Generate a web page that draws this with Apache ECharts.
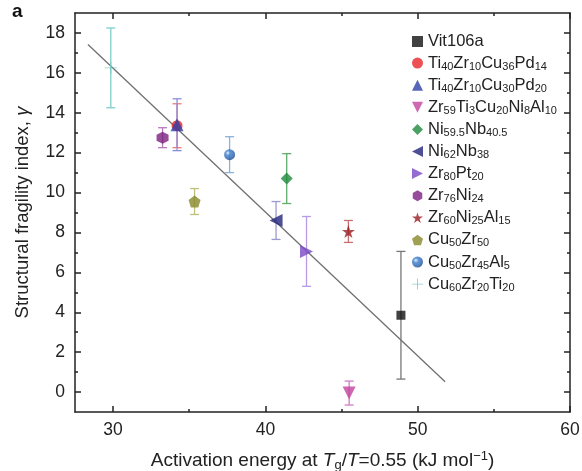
<!DOCTYPE html>
<html>
<head>
<meta charset="utf-8">
<script src="https://cdn.jsdelivr.net/npm/echarts@6/dist/echarts.min.js"></script>
<style>
  html, body { margin: 0; padding: 0; background: #fff; }
  #chart { width: 582px; height: 471px; }
</style>
</head>
<body>
<div id="chart"></div>
<script>
// alloy names (legend order)
const names = [
  'Vit106a', 'Ti40Zr10Cu36Pd14', 'Ti40Zr10Cu30Pd20', 'Zr59Ti3Cu20Ni8Al10',
  'Ni59.5Nb40.5', 'Ni62Nb38', 'Zr80Pt20', 'Zr76Ni24',
  'Zr60Ni25Al15', 'Cu50Zr50', 'Cu50Zr45Al5', 'Cu60Zr20Ti20'
];
// rich-text legend labels (subscripts)
const richNames = [
  '{n|Vit106a}',
  '{n|Ti}{s|40}{n|Zr}{s|10}{n|Cu}{s|36}{n|Pd}{s|14}',
  '{n|Ti}{s|40}{n|Zr}{s|10}{n|Cu}{s|30}{n|Pd}{s|20}',
  '{n|Zr}{s|59}{n|Ti}{s|3}{n|Cu}{s|20}{n|Ni}{s|8}{n|Al}{s|10}',
  '{n|Ni}{s|59.5}{n|Nb}{s|40.5}',
  '{n|Ni}{s|62}{n|Nb}{s|38}',
  '{n|Zr}{s|80}{n|Pt}{s|20}',
  '{n|Zr}{s|76}{n|Ni}{s|24}',
  '{n|Zr}{s|60}{n|Ni}{s|25}{n|Al}{s|15}',
  '{n|Cu}{s|50}{n|Zr}{s|50}',
  '{n|Cu}{s|50}{n|Zr}{s|45}{n|Al}{s|5}',
  '{n|Cu}{s|60}{n|Zr}{s|20}{n|Ti}{s|20}'
];
// activation energy (kJ/mol)
const xVals = [48.9, 34.2, 34.2, 45.5, 41.4, 40.7, 42.7, 33.25, 45.45, 35.35, 37.65, 29.85];
// structural fragility index
const yVals = [3.85, 13.35, 13.4, -0.05, 10.7, 8.6, 7.05, 12.75, 8.05, 9.55, 11.9, 16.25];
// error bar half-length
const yErr = [3.2, 1.1, 1.3, 0.6, 1.25, 0.95, 1.75, 0.5, 0.55, 0.65, 0.9, 2.0];
// linear fit end points
const fitX = [28.35, 51.8];
const fitY = [17.42, 0.52];
// tick values
const xMajor = [30, 40, 50, 60];
const xMinor = [35, 45, 55];
const yMajor = [0, 2, 4, 6, 8, 10, 12, 14, 16, 18];
const yMinor = [1, 3, 5, 7, 9, 11, 13, 15, 17];

const markerColors = ['#111111', '#e8262b', '#2f3ea6', '#c2449e', '#1e8a3c', '#22237a',
  '#7a48c4', '#7a1f80', '#9b1b22', '#88882a', '#2a6cb6', '#6cc4be'];
const barColors = ['#777777', '#f07a7a', '#8a8ee0', '#d57cc4', '#5fae6b', '#9a9ad0',
  '#b79ae6', '#b47ab8', '#c87070', '#c0c07a', '#8ab2da', '#7fcfc8'];

const symHex = 'path://M0,-1 L0.866,-0.5 L0.866,0.5 L0,1 L-0.866,0.5 L-0.866,-0.5Z';
const symPent = 'path://M0,-1 L0.951,-0.309 L0.588,0.809 L-0.588,0.809 L-0.951,-0.309Z';
const symStar = 'path://M0,-1 L0.225,-0.309 L0.951,-0.309 L0.363,0.118 L0.588,0.809 L0,0.382 L-0.588,0.809 L-0.363,0.118 L-0.951,-0.309 L-0.225,-0.309Z';
const symPlus = 'path://M-0.08,-1 H0.08 V-0.08 H1 V0.08 H0.08 V1 H-0.08 V0.08 H-1 V-0.08 H-0.08Z';
const symDown = 'path://M-1,-1 L1,-1 L0,1Z';
const symLeft = 'path://M1,-1 L1,1 L-1,0Z';
const symRight = 'path://M-1,-1 L-1,1 L1,0Z';

const symbols = ['rect', 'circle', 'triangle', symDown, 'diamond', symLeft,
  symRight, symHex, symStar, symPent, 'circle', symPlus];
const sizes = [9, 11, 13, 13, 12, 13, 13, 12, 13, 12, 11, 12];

const sphere = new echarts.graphic.RadialGradient(0.35, 0.35, 0.7, [
  { offset: 0, color: '#e6f0ff' },
  { offset: 0.3, color: '#3d80d0' },
  { offset: 1, color: '#1c4d96' }
]);

const font = "'Liberation Sans', Arial, sans-serif";
const chart = echarts.init(document.getElementById('chart'));

const axisLineStyle = { color: '#222', width: 1.5 };

function xAxes(pos) {
  return [
    {
      type: 'value', position: pos, min: 27.5, max: 60,
      axisLine: { show: true, onZero: false, lineStyle: axisLineStyle },
      axisTick: { show: true, inside: true, length: 6, customValues: xMajor, lineStyle: { color: '#222', width: 1.5 } },
      axisLabel: { show: pos === 'bottom', customValues: xMajor, margin: 9, fontSize: 17.5, color: '#222', fontFamily: font },
      splitLine: { show: false },
      name: pos === 'bottom' ? '{n|Activation energy at }{i|T}{s|g}{n|/}{i|T}{n|=0.55 (kJ mol}{p|\u22121}{n|)}' : '',
      nameLocation: 'middle', nameGap: 38,
      nameTextStyle: {
        rich: {
          n: { fontSize: 19, fontFamily: font, color: '#222', lineHeight: 22 },
          i: { fontSize: 19, fontFamily: font, color: '#222', fontStyle: 'italic', lineHeight: 22 },
          s: { fontSize: 13, fontFamily: font, color: '#222', lineHeight: 12, verticalAlign: 'bottom' },
          p: { fontSize: 13, fontFamily: font, color: '#222', lineHeight: 12, verticalAlign: 'top' }
        }
      }
    },
    {
      type: 'value', position: pos, min: 27.5, max: 60,
      axisLine: { show: false, onZero: false },
      axisTick: { show: true, inside: true, length: 3, customValues: xMinor, lineStyle: { color: '#222', width: 1.5 } },
      axisLabel: { show: false },
      splitLine: { show: false }
    }
  ];
}

function yAxes(pos) {
  return [
    {
      type: 'value', position: pos, min: -1, max: 19,
      axisLine: { show: true, onZero: false, lineStyle: axisLineStyle },
      axisTick: { show: true, inside: true, length: 6, customValues: yMajor, lineStyle: { color: '#222', width: 1.5 } },
      axisLabel: { show: pos === 'left', customValues: yMajor, margin: 10, fontSize: 17.5, color: '#222', fontFamily: font },
      splitLine: { show: false },
      name: pos === 'left' ? '{n|Structural fragility index, }{i|\u03b3}' : '',
      nameLocation: 'middle', nameGap: 43, nameRotate: 90,
      nameTextStyle: {
        rich: {
          n: { fontSize: 18.5, fontFamily: font, color: '#222' },
          i: { fontSize: 18.5, fontFamily: font, color: '#222', fontStyle: 'italic' }
        }
      }
    },
    {
      type: 'value', position: pos, min: -1, max: 19,
      axisLine: { show: false, onZero: false },
      axisTick: { show: true, inside: true, length: 3, customValues: yMinor, lineStyle: { color: '#222', width: 1.5 } },
      axisLabel: { show: false },
      splitLine: { show: false }
    }
  ];
}

// error bars: [x, low, high, index]
const errData = xVals.map((x, i) => [x, yVals[i] - yErr[i], yVals[i] + yErr[i], i]);

const series = [];
series.push({
  type: 'line',
  name: 'fit',
  data: fitX.map((x, i) => [x, fitY[i]]),
  showSymbol: false,
  lineStyle: { color: '#707070', width: 1.3 },
  z: 1,
  silent: true
});
series.push({
  type: 'custom',
  name: 'errors',
  data: errData,
  z: 2,
  renderItem: function (params, api) {
    const i = api.value(3);
    const lo = api.coord([api.value(0), api.value(1)]);
    const hi = api.coord([api.value(0), api.value(2)]);
    const w = 4.5;
    const style = { stroke: barColors[i], lineWidth: 1.3 };
    return {
      type: 'group',
      children: [
        { type: 'line', shape: { x1: lo[0], y1: lo[1], x2: hi[0], y2: hi[1] }, style: style },
        { type: 'line', shape: { x1: lo[0] - w, y1: lo[1], x2: lo[0] + w, y2: lo[1] }, style: style },
        { type: 'line', shape: { x1: hi[0] - w, y1: hi[1], x2: hi[0] + w, y2: hi[1] }, style: style }
      ]
    };
  }
});
names.forEach((nm, i) => {
  series.push({
    type: 'scatter',
    name: nm,
    data: [[xVals[i], yVals[i]]],
    symbol: symbols[i],
    symbolSize: sizes[i],
    itemStyle: { color: i === 10 ? sphere : markerColors[i] },
    z: 3
  });
});

const richIdx = {};
names.forEach((nm, i) => { richIdx[nm] = richNames[i]; });

chart.setOption({
  animation: false,
  backgroundColor: '#fff',
  grid: { left: 75, right: 12, top: 13, bottom: 59, outerBoundsMode: 'none' },
  xAxis: xAxes('bottom').concat(xAxes('top')),
  yAxis: yAxes('left').concat(yAxes('right')),
  legend: {
    data: names,
    orient: 'vertical',
    left: 407,
    top: 28,
    itemWidth: 11,
    itemHeight: 11,
    itemGap: 4.6,
    formatter: nm => richIdx[nm],
    textStyle: {
      rich: {
        n: { fontSize: 16.5, fontFamily: font, color: '#222', lineHeight: 18 },
        s: { fontSize: 11, fontFamily: font, color: '#222', lineHeight: 10, verticalAlign: 'bottom' }
      }
    }
  },
  graphic: [{
    type: 'text', left: 12, top: 2,
    style: { text: 'a', font: "bold 19px 'Liberation Sans', Arial, sans-serif", fill: '#111' }
  }],
  series: series
});
</script>
</body>
</html>
